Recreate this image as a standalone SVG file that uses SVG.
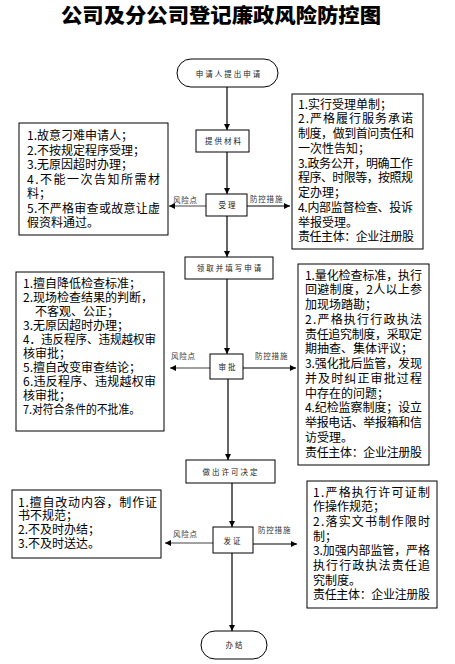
<svg xmlns="http://www.w3.org/2000/svg" width="455" height="664" viewBox="0 0 455 664">
<defs>
<marker id="ah" viewBox="0 0 8 8" refX="8" refY="4" markerWidth="6" markerHeight="6" orient="auto" markerUnits="userSpaceOnUse"><path d="M0,0 L8,4 L0,8 z" fill="#000"/></marker>
<style>
.bx{fill:#fff;stroke:#000;stroke-width:1}
.t{font-family:"Noto Sans CJK SC","Liberation Sans",sans-serif;font-size:12px;fill:#000}
.s{font-family:"Noto Sans CJK SC","Liberation Sans",sans-serif;font-size:7.5px;fill:#222;letter-spacing:2px;text-anchor:middle}
.lb{font-family:"Noto Sans CJK SC","Liberation Sans",sans-serif;font-size:7.5px;fill:#333;letter-spacing:0.8px}
.ln{stroke:#000;stroke-width:1.2;fill:none;marker-end:url(#ah)}
.lg{stroke:#444;stroke-width:1.2;fill:none;marker-end:url(#ah)}
</style>
</defs>
<rect width="455" height="664" fill="#fff"/>
<text x="221" y="23" text-anchor="middle" font-family="'Noto Sans CJK SC',sans-serif" font-size="20.5" font-weight="900" fill="#000" textLength="320" lengthAdjust="spacingAndGlyphs">公司及分公司登记廉政风险防控图</text>

<g id="connectors">
<line class="ln" x1="227" y1="87" x2="227" y2="130"/>
<line class="ln" x1="227" y1="152" x2="227" y2="194"/>
<line class="ln" x1="227" y1="216" x2="227" y2="257"/>
<line class="ln" x1="227" y1="279" x2="227" y2="354"/>
<line class="ln" x1="228" y1="379" x2="228" y2="460"/>
<line class="ln" x1="232" y1="483" x2="232" y2="527"/>
<line class="ln" x1="232" y1="553" x2="232" y2="631"/>
<line class="lg" x1="206" y1="206" x2="169" y2="206"/>
<text class="lb" x="173" y="203">风险点</text>
<line class="ln" x1="247" y1="206" x2="290" y2="206"/>
<text class="lb" x="250" y="202">防控措施</text>
<line class="lg" x1="210" y1="368" x2="170" y2="368"/>
<text class="lb" x="171" y="359">风险点</text>
<line class="ln" x1="243" y1="368" x2="296" y2="368"/>
<text class="lb" x="255" y="359">防控措施</text>
<line class="lg" x1="213" y1="543" x2="165" y2="543"/>
<text class="lb" x="173" y="537">风险点</text>
<line class="ln" x1="253" y1="544" x2="297" y2="544"/>
<text class="lb" x="258" y="533">防控措施</text>
</g>

<g id="n-start">
<rect class="bx" x="177" y="59" width="101" height="28" rx="14"/>
<text class="s" x="229" y="77">申请人提出申请</text>
</g>
<g id="n-provide">
<rect class="bx" x="196" y="130" width="53" height="22"/>
<text class="s" x="224" y="144">提供材料</text>
</g>
<g id="n-accept">
<rect class="bx" x="206" y="194" width="41" height="22"/>
<text class="s" x="228" y="208">受理</text>
</g>
<g id="n-fill">
<rect class="bx" x="185" y="257" width="88" height="22"/>
<text class="s" x="230" y="271">领取并填写申请</text>
</g>
<g id="n-approve">
<rect class="bx" x="210" y="354" width="33" height="25"/>
<text class="s" x="228" y="370">审批</text>
</g>
<g id="n-decide">
<rect class="bx" x="186" y="460" width="89" height="23"/>
<text class="s" x="231" y="475">做出许可决定</text>
</g>
<g id="n-issue">
<rect class="bx" x="213" y="527" width="40" height="26"/>
<text class="s" x="233" y="544">发证</text>
</g>
<g id="n-end">
<rect class="bx" x="201" y="631" width="66" height="28" rx="14"/>
<text class="s" x="235" y="648">办结</text>
</g>

<g id="risk-1">
<rect class="bx" x="19" y="123" width="149" height="112"/>
<text class="t">
<tspan x="27" y="140">1.故意刁难申请人；</tspan>
<tspan x="27" y="154.5">2.不按规定程序受理；</tspan>
<tspan x="27" y="169">3.无原因超时办理；</tspan>
<tspan x="27" y="183.5" textLength="133" lengthAdjust="spacing">4.不能一次告知所需材</tspan>
<tspan x="27" y="198">料；</tspan>
<tspan x="27" y="212.5" textLength="133" lengthAdjust="spacing">5.不严格审查或故意让虚</tspan>
<tspan x="27" y="227">假资料通过。</tspan>
</text>
</g>
<g id="control-1">
<rect class="bx" x="292" y="94" width="131" height="155"/>
<text class="t">
<tspan x="298" y="108.5">1.实行受理单制；</tspan>
<tspan x="298" y="123.3" textLength="115" lengthAdjust="spacing">2.严格履行服务承诺</tspan>
<tspan x="298" y="138" textLength="116" lengthAdjust="spacing">制度，做到首问责任和</tspan>
<tspan x="298" y="152.8">一次性告知；</tspan>
<tspan x="298" y="167.5" textLength="115" lengthAdjust="spacing">3.政务公开，明确工作</tspan>
<tspan x="298" y="182.3" textLength="115" lengthAdjust="spacing">程序、时限等，按照规</tspan>
<tspan x="298" y="197">定办理；</tspan>
<tspan x="298" y="211.8" textLength="115" lengthAdjust="spacing">4.内部监督检查、投诉</tspan>
<tspan x="298" y="226.5">举报受理。</tspan>
<tspan x="298" y="241.3" textLength="116" lengthAdjust="spacing">责任主体：企业注册股</tspan>
</text>
</g>

<g id="risk-2">
<rect class="bx" x="16" y="272" width="148" height="159"/>
<text class="t">
<tspan x="23" y="288">1.擅自降低检查标准；</tspan>
<tspan x="23" y="302">2.现场检查结果的判断，</tspan>
<tspan x="35" y="316">不客观、公正；</tspan>
<tspan x="23" y="330">3.无原因超时办理；</tspan>
<tspan x="23" y="344" textLength="133" lengthAdjust="spacingAndGlyphs">4．违反程序、违规越权审</tspan>
<tspan x="23" y="358">核审批；</tspan>
<tspan x="23" y="372">5.擅自改变审查结论；</tspan>
<tspan x="23" y="386" textLength="133" lengthAdjust="spacing">6.违反程序、违规越权审</tspan>
<tspan x="23" y="400">核审批；</tspan>
<tspan x="23" y="414" textLength="117" lengthAdjust="spacingAndGlyphs">7.对符合条件的不批准。</tspan>
</text>
</g>
<g id="control-2">
<rect class="bx" x="298" y="264" width="131" height="201"/>
<text class="t">
<tspan x="305" y="279.5" textLength="117" lengthAdjust="spacing">1.量化检查标准，执行</tspan>
<tspan x="305" y="294.3" textLength="117" lengthAdjust="spacing">回避制度，2人以上参</tspan>
<tspan x="305" y="309">加现场踏勘；</tspan>
<tspan x="305" y="323.8" textLength="117" lengthAdjust="spacing">2.严格执行行政执法</tspan>
<tspan x="305" y="338.5" textLength="117" lengthAdjust="spacing">责任追究制度，采取定</tspan>
<tspan x="305" y="353.3">期抽查、集体评议；</tspan>
<tspan x="305" y="368" textLength="117" lengthAdjust="spacing">3.强化批后监管，发现</tspan>
<tspan x="305" y="382.8" textLength="117" lengthAdjust="spacing">并及时纠正审批过程</tspan>
<tspan x="305" y="397.5">中存在的问题；</tspan>
<tspan x="305" y="412.3" textLength="117" lengthAdjust="spacing">4.纪检监察制度；设立</tspan>
<tspan x="305" y="427" textLength="117" lengthAdjust="spacing">举报电话、举报箱和信</tspan>
<tspan x="305" y="441.8">访受理。</tspan>
<tspan x="305" y="456.5" textLength="117" lengthAdjust="spacing">责任主体：企业注册股</tspan>
</text>
</g>

<g id="risk-3">
<rect class="bx" x="12" y="490" width="149" height="68"/>
<text class="t">
<tspan x="18" y="506.5" textLength="139" lengthAdjust="spacing">1.擅自改动内容，制作证</tspan>
<tspan x="18" y="520.3">书不规范；</tspan>
<tspan x="18" y="534">2.不及时办结；</tspan>
<tspan x="18" y="547.8">3.不及时送达。</tspan>
</text>
</g>
<g id="control-3">
<rect class="bx" x="307" y="481" width="130" height="127"/>
<text class="t">
<tspan x="313" y="496.5" textLength="117" lengthAdjust="spacing">1.严格执行许可证制</tspan>
<tspan x="313" y="511.2">作操作规范；</tspan>
<tspan x="313" y="525.9" textLength="117" lengthAdjust="spacing">2.落实文书制作限时</tspan>
<tspan x="313" y="540.6">制；</tspan>
<tspan x="313" y="555.3" textLength="117" lengthAdjust="spacing">3.加强内部监管，严格</tspan>
<tspan x="313" y="570" textLength="117" lengthAdjust="spacing">执行行政执法责任追</tspan>
<tspan x="313" y="584.7">究制度。</tspan>
<tspan x="313" y="599.4" textLength="117" lengthAdjust="spacing">责任主体：企业注册股</tspan>
</text>
</g>
</svg>
